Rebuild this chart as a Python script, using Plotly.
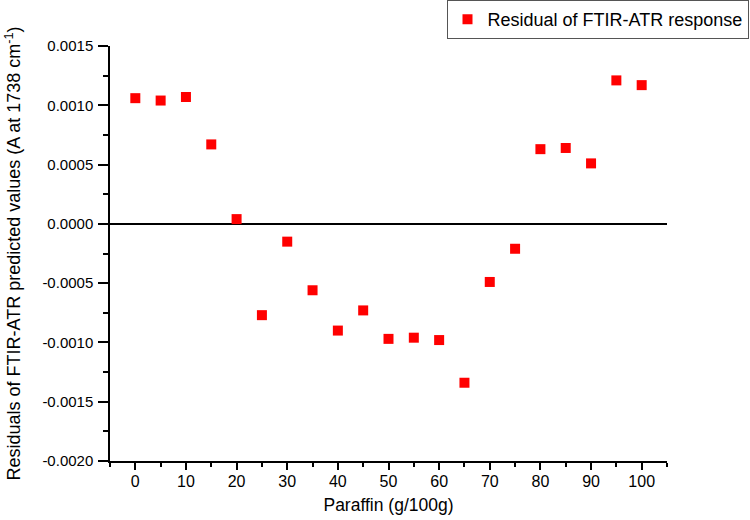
import plotly.graph_objects as go

paraffin = [0, 5, 10, 15, 20, 25, 30, 35, 40, 45, 50, 55, 60, 65, 70, 75, 80, 85, 90, 95, 100]
residuals = [0.00106, 0.00104, 0.00107, 0.00067, 0.00004, -0.00077, -0.00015, -0.00056,
             -0.00090, -0.00073, -0.00097, -0.00096, -0.00098, -0.00134, -0.00049,
             -0.00021, 0.00063, 0.00064, 0.00051, 0.00121, 0.00117]

y_tickvals = [-0.0020, -0.0015, -0.0010, -0.0005, 0.0, 0.0005, 0.0010, 0.0015]
y_ticktext = ["-0.0020", "-0.0015", "-0.0010", "-0.0005", "0.0000", "0.0005", "0.0010", "0.0015"]
x_tickvals = [0, 10, 20, 30, 40, 50, 60, 70, 80, 90, 100]
x_ticktext = ["0", "10", "20", "30", "40", "50", "60", "70", "80", "90", "100"]

font_family = "Liberation Sans, Arial, sans-serif"

fig = go.Figure()
fig.add_trace(go.Scatter(
    x=paraffin, y=residuals, mode="markers",
    name="Residual of FTIR-ATR response",
    marker=dict(symbol="square", size=10, color="#ff0000"),
))

fig.update_layout(
    width=750, height=520,
    margin=dict(l=110, r=83, t=46, b=59, autoexpand=False),
    paper_bgcolor="white", plot_bgcolor="white",
    font=dict(family=font_family, size=15, color="black"),
    showlegend=True,
    legend=dict(
        xref="container", yref="container",
        x=0.998, y=1.0, xanchor="right", yanchor="top",
        bordercolor="#555555", borderwidth=1, bgcolor="white",
        font=dict(size=18),
    ),
    xaxis=dict(
        range=[-5, 105], showgrid=False, zeroline=False, automargin=False,
        showline=True, linecolor="black", linewidth=1.5,
        ticks="outside", ticklen=7, tickwidth=1.5, tickcolor="black",
        tickvals=x_tickvals, ticktext=x_ticktext, ticklabelstandoff=-2,
        minor=dict(dtick=5, tick0=0, ticks="outside", ticklen=4, tickwidth=1.5, tickcolor="black"),
        title=dict(text="Paraffin (g/100g)", font=dict(size=17.5), standoff=10),
        tickfont=dict(size=16),
    ),
    yaxis=dict(
        range=[-0.0020, 0.0015], showgrid=False, automargin=False,
        zeroline=True, zerolinecolor="black", zerolinewidth=1.5,
        showline=True, linecolor="black", linewidth=1.5,
        ticks="outside", ticklen=10, tickwidth=1.5, tickcolor="black",
        tickvals=y_tickvals, ticktext=y_ticktext, ticklabelstandoff=2,
        minor=dict(dtick=0.00025, tick0=0, ticks="outside", ticklen=5, tickwidth=1.5, tickcolor="black"),
        title=dict(text="Residuals of FTIR-ATR predicted values (A at 1738 cm<sup>-1</sup>)",
                   font=dict(size=18), standoff=17),
        tickfont=dict(size=15),
    ),
)

fig.write_html("out.html", config={"displayModeBar": False},
               post_script="document.body.style.margin='0';")
